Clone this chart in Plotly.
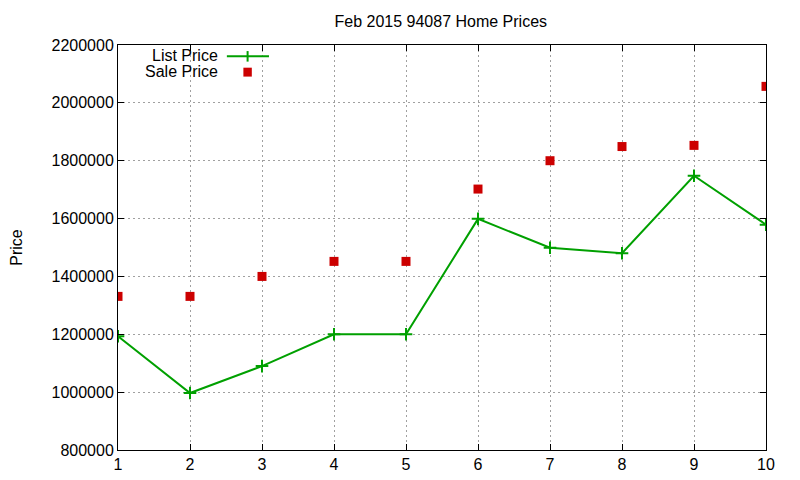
import plotly.graph_objects as go

# Feb 2015 94087 home prices
months = [1, 2, 3, 4, 5, 6, 7, 8, 9, 10]
list_price = [1193000, 997000, 1090000, 1200000, 1200000, 1599000, 1499000, 1480000, 1748000, 1579000]
sale_price = [1331000, 1331000, 1400000, 1452000, 1452000, 1702000, 1800000, 1849000, 1853000, 2057000]

green = "#00a000"
red = "#cc0000"
font_name = "Liberation Sans, Arial, sans-serif"

fig = go.Figure()

fig.add_trace(go.Scatter(
    x=months, y=list_price, name="List Price", mode="lines+markers",
    line=dict(color=green, width=2),
    marker=dict(symbol="cross-thin", size=9, line=dict(color=green, width=2)),
    showlegend=False,
))

fig.add_trace(go.Scatter(
    x=months, y=sale_price, name="Sale Price", mode="markers",
    marker=dict(symbol="square", size=9, color=red),
    showlegend=False,
))

axis_common = dict(
    showline=True, linecolor="black", linewidth=1, mirror="allticks",
    ticks="inside", ticklen=6, tickcolor="black",
    showgrid=True, gridcolor="#a0a0a0", griddash="2px,3px", gridwidth=1,
    zeroline=False, automargin=False,
    tickfont=dict(family=font_name, size=16, color="black"),
)

fig.update_xaxes(range=[1, 10], dtick=1, **axis_common)
fig.update_yaxes(range=[800000, 2200000], dtick=200000, tickformat="d",
                 title=dict(text="Price", standoff=32,
                            font=dict(family=font_name, size=16, color="black")),
                 **axis_common)

# gnuplot-style legend: text on the left, sample on the right
fig.add_annotation(x=0.157, y=0.975, xref="paper", yref="paper", text="List Price",
                   showarrow=False, xanchor="right", yanchor="middle", height=15,
                   font=dict(family=font_name, size=16, color="black"))
fig.add_annotation(x=0.157, y=0.935, xref="paper", yref="paper", text="Sale Price",
                   showarrow=False, xanchor="right", yanchor="middle", height=15,
                   font=dict(family=font_name, size=16, color="black"))
fig.add_shape(type="line", xref="paper", yref="paper", x0=0.168, x1=0.233, y0=0.972, y1=0.972,
              line=dict(color=green, width=2))
fig.add_shape(type="line", xref="paper", yref="paper", x0=0.2, x1=0.2, y0=0.959, y1=0.985,
              line=dict(color=green, width=2))
fig.add_shape(type="rect", xref="paper", yref="paper", x0=0.1935, x1=0.2065, y0=0.922, y1=0.944,
              line=dict(width=0), fillcolor=red)

fig.update_layout(
    width=800, height=480,
    margin=dict(l=110, r=42, t=37, b=38),
    paper_bgcolor="white", plot_bgcolor="white",
    title=dict(text="Feb 2015 94087 Home Prices", x=0.541, xanchor="center", y=0.973, yanchor="middle",
               font=dict(family=font_name, size=16, color="black")),
)

fig.write_html("out.html")
